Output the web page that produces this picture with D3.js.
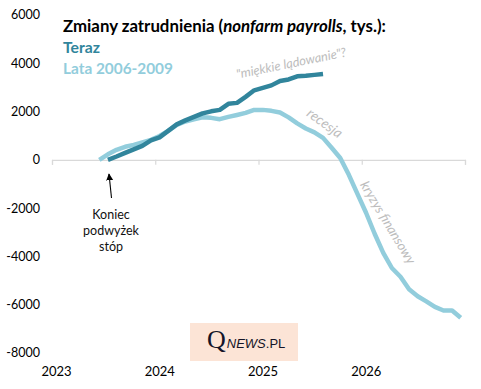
<!DOCTYPE html>
<html><head><meta charset="utf-8">
<script src="https://cdn.jsdelivr.net/npm/d3@7"></script>
<style>
body{margin:0;background:#fff;}
svg{display:block;font-family:Lato,"Open Sans",sans-serif;}
</style></head>
<body>
<svg id="c" width="481" height="389"></svg>
<script>
// ---- data ----
const yearLabels = ["2023","2024","2025","2026"];
const yTickValues = [6000,4000,2000,0,-2000,-4000,-6000,-8000];
// month index counted from Jan 2023
const terazStartMonth = 6;   // Jul 2023 (koniec podwyżek)
const terazValues = [0,140,290,435,580,807,930,1200,1470,1635,1780,1925,2010,2070,2320,2360,2610,2880,2980,3085,3270,3330,3460,3480,3520,3560];
const lataStartMonth = 5;    // Jun 2006 aligned
const lataValues = [0,230,415,540,620,725,830,990,1200,1450,1590,1680,1760,1740,1685,1780,1860,1945,2070,2070,2030,1960,1760,1510,1300,1140,910,500,80,-620,-1410,-2190,-3060,-3850,-4480,-4840,-5360,-5650,-5860,-6090,-6240,-6240,-6540];

const darkC = "#31859C", lightC = "#92CDDC", grayT = "#bdbdbd";

const svg = d3.select("#c");
const x = d3.scaleLinear().domain([0,48]).range([52,465]);
const y = d3.scaleLinear().domain([-8000,6000]).range([353,15]);

function fit(sel, w){
  const n = sel.node(); const fs = parseFloat(sel.attr("font-size"));
  const l = n.getComputedTextLength();
  sel.attr("font-size", (fs*w/l).toFixed(2));
}

// y axis labels
svg.append("g").selectAll("text").data(yTickValues).join("text")
  .attr("x",40).attr("y",d=>y(d)).attr("dy","0.35em")
  .attr("text-anchor","end").attr("font-size",12.5).attr("fill","#000")
  .text(d=>d);

// zero axis with ticks
const xAxis = d3.axisBottom(x).tickValues([0,12,24,36,48]).tickSize(5).tickFormat("");
const gx = svg.append("g").attr("transform",`translate(0,${y(0)})`).call(xAxis);
gx.selectAll("path,line").attr("stroke","#d9d9d9").attr("stroke-width",1.2);

// year labels at bottom
svg.append("g").selectAll("text").data(yearLabels).join("text")
  .attr("x",(d,i)=>x(i*12)+4.5).attr("y",376)
  .attr("text-anchor","middle").attr("font-size",13).attr("fill","#000")
  .text(d=>d);

// lines
const line = d3.line().x(d=>x(d.m+0.5)).y(d=>y(d.v)).curve(d3.curveLinear);
const lata = lataValues.map((v,i)=>({m:lataStartMonth+i,v}));
const teraz = terazValues.map((v,i)=>({m:terazStartMonth+i,v}));
svg.append("path").datum(lata).attr("d",line).attr("fill","none")
  .attr("stroke",lightC).attr("stroke-width",4.5).attr("stroke-linejoin","round");
svg.append("path").datum(teraz).attr("d",line).attr("fill","none")
  .attr("stroke",darkC).attr("stroke-width",4.5).attr("stroke-linejoin","round");

// title & legend
const t = svg.append("text").attr("x",63).attr("y",32).attr("font-size",15)
  .attr("font-weight","bold").attr("fill","#000");
t.append("tspan").text("Zmiany zatrudnienia (");
t.append("tspan").attr("font-style","italic").text("nonfarm payrolls");
t.append("tspan").text(", tys.):");
fit(t,323);
const l1 = svg.append("text").attr("x",63).attr("y",53).attr("font-size",15)
  .attr("font-weight","bold").attr("fill",darkC).text("Teraz");
fit(l1,37);
const l2 = svg.append("text").attr("x",63).attr("y",74).attr("font-size",15)
  .attr("font-weight","bold").attr("fill",lightC).text("Lata 2006-2009");
fit(l2,110);

// gray annotations
function ann(txt,cx,cy,ang,w){
  const e = svg.append("text").attr("font-size",12).attr("font-style","italic")
    .attr("fill",grayT).attr("text-anchor","middle")
    .attr("transform",`translate(${cx},${cy}) rotate(${ang})`).text(txt);
  fit(e,w);
}
ann("\"miękkie lądowanie\"?",292,67.5,-11.5,112);
ann("recesja",322,127,36,40);
ann("kryzys finansowy",384,225,59,94);

// Koniec podwyżek stóp
svg.append("defs").append("marker").attr("id","ah").attr("viewBox","0 0 10 10")
  .attr("refX",9).attr("refY",5).attr("markerWidth",7).attr("markerHeight",9)
  .attr("markerUnits","userSpaceOnUse").attr("orient","auto")
  .append("path").attr("d","M0,0 L10,5 L0,10 Z").attr("fill","#000");
svg.append("line").attr("x1",111.5).attr("y1",198).attr("x2",109).attr("y2",174)
  .attr("stroke","#000").attr("stroke-width",1.1).attr("marker-end","url(#ah)");
["Koniec","podwyżek","stóp"].forEach((s,i)=>{
  svg.append("text").attr("x",111).attr("y",215+i*16).attr("dy","0.35em")
    .attr("text-anchor","middle").attr("font-size",12.5).attr("fill","#111").text(s);
});

// logo
svg.append("rect").attr("x",190).attr("y",323).attr("width",108).attr("height",38).attr("fill","#FCE4D6");
const lg = svg.append("text").attr("x",207).attr("y",348).attr("fill","#141428")
  .attr("font-family","'Liberation Serif',serif");
lg.append("tspan").attr("font-size",26).text("Q");
lg.append("tspan").attr("font-size",13).attr("font-style","italic").attr("dx",1)
  .attr("font-family","'Liberation Sans',sans-serif").text("NEWS");
lg.append("tspan").attr("font-size",13)
  .attr("font-family","'Liberation Sans',sans-serif").text(".PL");
</script>
</body></html>
